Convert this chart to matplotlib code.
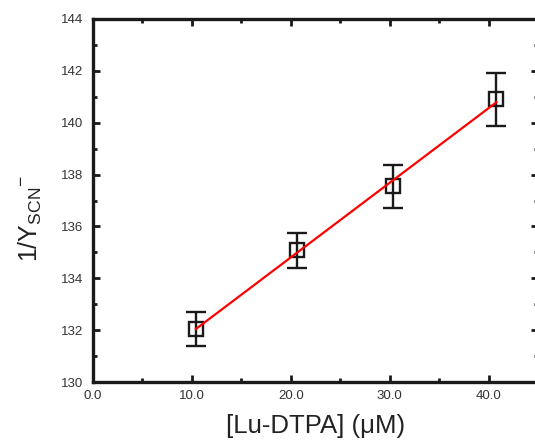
import numpy as np
import matplotlib
matplotlib.use("Agg")
import matplotlib.pyplot as plt
from matplotlib.ticker import MultipleLocator, FormatStrFormatter

# Data
conc = [10.4, 20.6, 30.3, 40.8]          # [Lu-DTPA] (uM)
inv_y = [132.05, 135.08, 137.55, 140.9]  # 1/Y_SCN-
err = [0.65, 0.67, 0.83, 1.02]

plt.rcParams['font.family'] = ['Liberation Sans', 'DejaVu Sans']

fig = plt.figure(figsize=(5.35, 4.4), dpi=100)
ax = fig.add_axes([93/535, 1-382/440, (538-93)/535, (382-19)/440])

ax.errorbar(conc, inv_y, yerr=err, fmt='s', mfc='none', mec='#1a1a1a',
            ms=9.5, mew=1.7, ecolor='#1a1a1a', elinewidth=1.7, capsize=7,
            capthick=1.7, zorder=3)

coef = np.polyfit(conc, inv_y, 1)
xs = np.array([conc[0], conc[-1]])
ax.plot(xs, np.polyval(coef, xs), color='red', lw=1.6, zorder=4)

ax.set_xlim(0, 45)
ax.set_ylim(130, 144)
ax.xaxis.set_major_locator(MultipleLocator(10))
ax.xaxis.set_minor_locator(MultipleLocator(5))
ax.yaxis.set_major_locator(MultipleLocator(2))
ax.yaxis.set_minor_locator(MultipleLocator(1))
ax.xaxis.set_major_formatter(FormatStrFormatter('%.1f'))
ax.tick_params(which='both', direction='in', top=True, right=True,
               labelsize=9.5, colors='#1a1a1a', labelcolor='#333333')
ax.tick_params(axis='x', which='both', pad=6)
ax.tick_params(axis='y', which='both', pad=7)
ax.tick_params(which='major', length=5, width=2)
ax.tick_params(which='minor', length=3, width=2)
for s in ax.spines.values():
    s.set_linewidth(2.4)
    s.set_color('#1a1a1a')

ax.set_xlabel('[Lu-DTPA] (μM)', fontsize=18.5, color='#222222')
ax.xaxis.set_label_coords(0.5, -0.088)
ax.set_ylabel(r'1/Y$_{\mathregular{SCN}}$$^{\mathregular{-}}$', fontsize=18,
              color='#222222')
ax.yaxis.set_label_coords(-0.11, 0.45)

fig.savefig('out.png', dpi=100)
